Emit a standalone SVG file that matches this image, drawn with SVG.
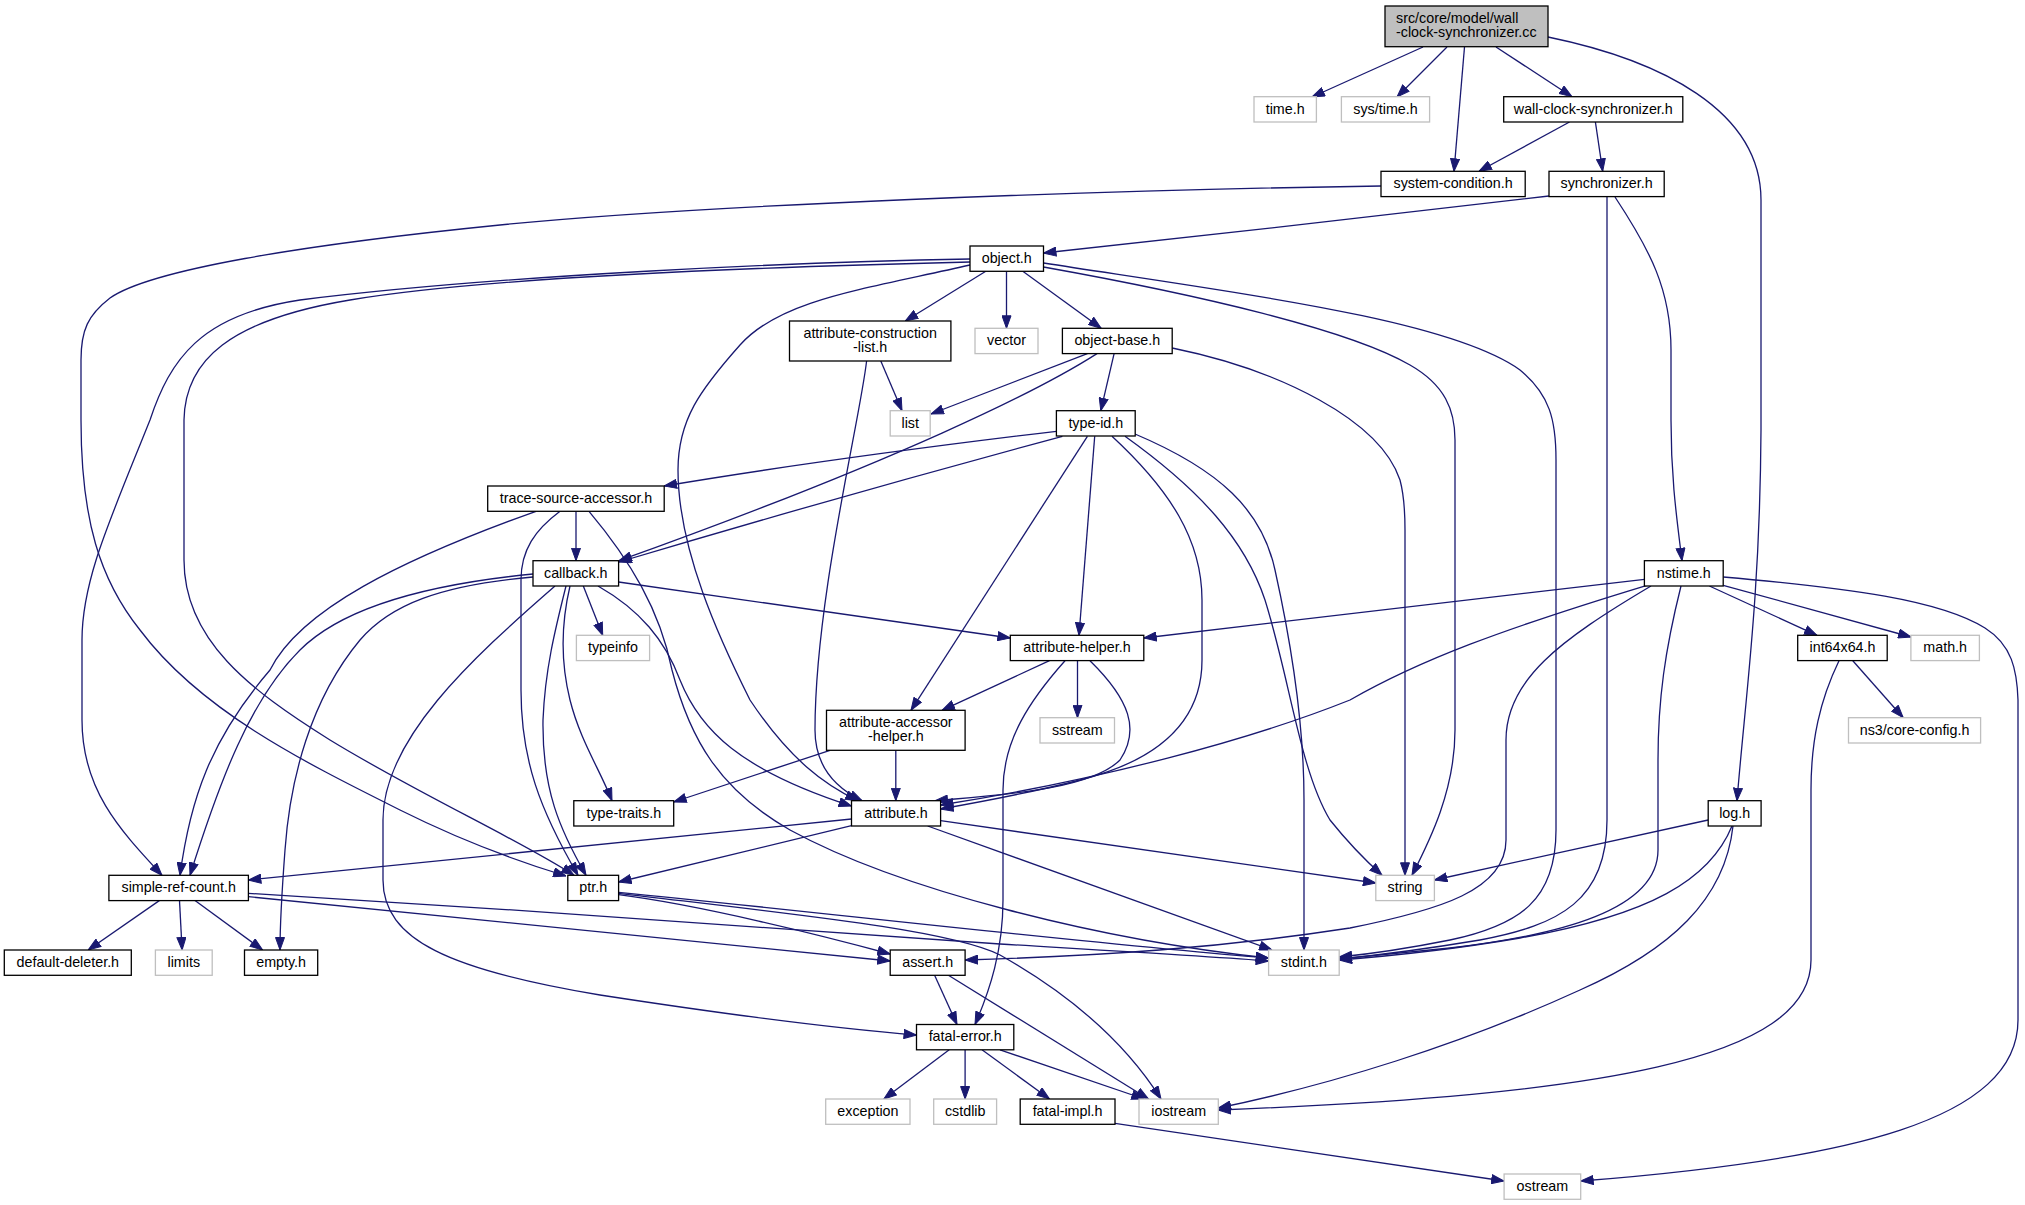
<svg xmlns="http://www.w3.org/2000/svg" width="2025" height="1205" viewBox="0 0 2025 1205">
<style>
.n rect{fill:#fff;stroke:#000;stroke-width:1.3}
.s rect{fill:#fff;stroke:#bfbfbf;stroke-width:1.3}
.r rect{fill:#bfbfbf;stroke:#000;stroke-width:1.3}
text{font-family:"Liberation Sans",Arial,sans-serif;font-size:14.3px;text-anchor:middle;fill:#000}
.r text{text-anchor:start}
#edges path{fill:none;stroke:#191970;stroke-width:1.3;marker-end:url(#a)}
</style>
<defs>
<marker id="a" markerWidth="13" markerHeight="10" refX="13" refY="5" orient="auto" markerUnits="userSpaceOnUse"><path d="M0.5,0.5 L13,5 L0.5,9.5 z" fill="#191970" stroke="#191970" stroke-width="1"/></marker>
</defs>
<rect width="2025" height="1205" fill="#fff"/>
<g id="edges">
<path d="M1423,47 L1312,97"/>
<path d="M1447,47 L1397,97"/>
<path d="M1464.5,47 L1454,171.3"/>
<path d="M1496,47 L1572,96.7"/>
<path d="M1548,37 C1660,60 1761,110 1761,200 L1761,430 C1760,600 1745,700 1737,800.7"/>
<path d="M1569.5,122 L1479,171.3"/>
<path d="M1595.4,122 L1602.7,171.3"/>
<path d="M1381,186 C1100,190 700,205 500,225 C300,245 150,270 110,298 C88,315 81,330 81,360 L81,420 C81,520 100,580 140,630 C200,710 300,760 400,810 C460,840 520,862 566,876"/>
<path d="M1549,196 C1400,214 1200,236 1043.5,253"/>
<path d="M1607,197 L1607,820 C1607,900 1560,925 1480,940 C1420,950 1380,955 1339.2,959"/>
<path d="M1615,197 C1650,250 1671,290 1671,350 L1671,420 C1671,480 1677,520 1682,560.7"/>
<path d="M985.8,271.3 L905.3,321"/>
<path d="M1006.5,271.3 L1006.5,328.3"/>
<path d="M1022.8,271.3 L1101.2,328.3"/>
<path d="M970,265 C860,290 780,300 740,345 C700,390 678,420 678,470 C678,550 720,640 750,700 C790,760 825,785 858,800.7"/>
<path d="M970,259 C800,262 500,275 300,300 C200,315 170,360 150,420 C110,520 82,580 82,640 L82,720 C82,790 120,830 162,875.3"/>
<path d="M970,262 C800,266 500,275 350,300 C230,320 185,360 184,420 L184,560 C184,640 250,690 330,740 C420,795 520,840 574,875.3"/>
<path d="M1043.5,263 C1250,295 1450,320 1520,370 C1550,395 1556,420 1556,460 L1556,830 C1556,900 1520,925 1450,940 C1400,950 1370,954 1339.2,957"/>
<path d="M1043.5,267 C1200,295 1350,330 1410,365 C1445,385 1455,410 1455,440 L1455,730 C1455,790 1430,840 1412,875.3"/>
<path d="M1087.4,353.6 L931,414"/>
<path d="M1097,353.6 C1040,390 900,460 619,560.7"/>
<path d="M1114.1,353.6 L1100.8,410.7"/>
<path d="M1172.2,348 C1280,370 1380,420 1400,480 C1404,495 1405,510 1405,530 L1405,875.3"/>
<path d="M880.8,361 L902,410.7"/>
<path d="M866.6,361 C860,420 815,600 815,730 C815,770 840,790 862,800.7"/>
<path d="M1056.4,431.3 C900,450 760,470 664.2,486"/>
<path d="M1062.4,436.3 C900,480 760,520 619,562"/>
<path d="M1087.4,436.3 L911,710.3"/>
<path d="M1094.7,436.3 L1079,635.3"/>
<path d="M1112,436.3 C1170,490 1202,540 1202,600 L1202,660 C1202,720 1160,760 1080,780 C1030,793 980,802 940.6,809"/>
<path d="M1125,436.3 C1200,490 1245,540 1265,600 C1290,680 1300,770 1330,820 C1350,845 1365,860 1382,875.3"/>
<path d="M1135,434 C1220,470 1262,510 1275,570 C1295,660 1304,740 1304,800 L1304,950"/>
<path d="M576,511.3 L576,560.7"/>
<path d="M560,511.3 C535,530 521,550 521,580 L521,690 C521,760 540,810 578,875.3"/>
<path d="M536,511.3 C400,560 300,610 270,670 C210,740 190,800 180,875.3"/>
<path d="M589,511.3 C630,560 660,610 672,670 C690,740 720,790 790,830 C900,890 1100,940 1268.6,958"/>
<path d="M583.3,586 L602.7,635.3"/>
<path d="M570,586 C562,620 560,660 570,700 C580,740 600,770 612,800.7"/>
<path d="M566,586 C555,630 545,670 543,720 C542,790 560,830 586,875.3"/>
<path d="M533,574 C420,585 340,610 300,650 C250,700 220,780 190,875.3"/>
<path d="M533,577 C440,585 390,605 360,640 C310,700 290,780 285,850 C282,890 280,920 280,950"/>
<path d="M555,586 C470,660 383,740 383,820 L383,880 C383,940 450,970 600,995 C730,1015 830,1028 916.5,1035"/>
<path d="M618.6,582 L1010.3,638"/>
<path d="M598,586 C640,610 665,640 680,680 C700,730 740,770 851.5,806"/>
<path d="M1644.4,579.3 L1143.8,638"/>
<path d="M1647,585.3 C1500,630 1420,660 1350,700 C1250,740 1100,780 940.6,805"/>
<path d="M1651,586 C1560,640 1506,680 1506,740 L1506,840 C1506,890 1440,910 1350,928 C1220,948 1100,956 965.1,960"/>
<path d="M1681,586 C1665,650 1658,700 1658,760 L1658,850 C1658,910 1560,935 1450,948 C1400,953 1370,956 1339.2,959"/>
<path d="M1709.4,586 L1817,635.3"/>
<path d="M1723.2,585.3 L1911,637"/>
<path d="M1723.2,577 C1850,588 1940,600 1985,628 C2012,645 2017,670 2018,700 L2018,1020 C2018,1120 1850,1160 1580.7,1181"/>
<path d="M1852.8,660.7 L1903.2,717.7"/>
<path d="M1839,660.7 C1820,700 1811,740 1811,790 L1811,960 C1811,1060 1600,1095 1218.3,1110"/>
<path d="M1708.2,820 L1434.4,880"/>
<path d="M1732,826 C1710,880 1650,915 1520,938 C1450,950 1390,956 1339.2,960"/>
<path d="M1733,826 C1725,900 1670,950 1580,990 C1460,1045 1330,1085 1218.3,1108"/>
<path d="M1049.5,660.7 L942,710.3"/>
<path d="M1077.5,660.7 L1077.5,717.7"/>
<path d="M1090,660.7 C1130,700 1140,730 1120,760 C1090,790 1000,795 935,800.7"/>
<path d="M1065,660.7 C1030,700 1003,740 1003,790 L1003,900 C1003,950 990,990 975,1024.5"/>
<path d="M895.8,750.3 L895.8,800.7"/>
<path d="M830,750.3 L673.7,802"/>
<path d="M851.5,819 L248.4,880"/>
<path d="M851.5,825.7 L618.6,882"/>
<path d="M940.6,820.7 L1375.8,883"/>
<path d="M927.7,826 L1272,950"/>
<path d="M159.3,900.6 L88.2,950"/>
<path d="M179.5,900.6 L182.1,950"/>
<path d="M195,900.6 L262.6,950"/>
<path d="M248.4,893.3 C500,908 800,930 1000,944 C1150,953 1220,957 1268.6,961"/>
<path d="M248.4,896.7 C500,920 750,945 890.2,961"/>
<path d="M618.6,892.3 C800,910 1100,945 1268.6,958"/>
<path d="M618.6,894.7 C700,905 820,935 890.2,954"/>
<path d="M618.6,893.3 C800,915 950,930 1000,955 C1080,1000 1130,1050 1161,1099"/>
<path d="M934.6,975.3 L957,1024.5"/>
<path d="M948.4,975.3 L1148.5,1099"/>
<path d="M949.2,1049.8 L883.8,1099"/>
<path d="M965.1,1049.8 L965.1,1099"/>
<path d="M982,1049.8 L1049.5,1099"/>
<path d="M1000,1049.8 L1144.2,1099"/>
<path d="M1115,1123.3 L1504.1,1181"/>
</g>
<g id="n-root" class="r"><rect x="1385" y="6" width="163" height="40.7"/><text x="1396" y="23">src/core/model/wall</text><text x="1396" y="37">-clock-synchronizer.cc</text></g>
<g id="n-time" class="s"><rect x="1254" y="96.7" width="62.4" height="25.3"/><text x="1285.2" y="113.5">time.h</text></g>
<g id="n-systime" class="s"><rect x="1341.4" y="96.7" width="88.2" height="25.3"/><text x="1385.5" y="113.5">sys/time.h</text></g>
<g id="n-wcs" class="n"><rect x="1503.7" y="96.7" width="179.1" height="25.3"/><text x="1593.3" y="113.5">wall-clock-synchronizer.h</text></g>
<g id="n-syscond" class="n"><rect x="1381" y="171.3" width="144.2" height="25.3"/><text x="1453.1" y="188.1">system-condition.h</text></g>
<g id="n-sync" class="n"><rect x="1549" y="171.3" width="115.2" height="25.3"/><text x="1606.6" y="188.1">synchronizer.h</text></g>
<g id="n-object" class="n"><rect x="970" y="246" width="73.5" height="25.3"/><text x="1006.75" y="262.8">object.h</text></g>
<g id="n-acl" class="n"><rect x="789.5" y="321" width="161.4" height="40"/><text x="870.2" y="337.5">attribute-construction</text><text x="870.2" y="351.5">-list.h</text></g>
<g id="n-vector" class="s"><rect x="975" y="328.3" width="63" height="25.3"/><text x="1006.5" y="345.1">vector</text></g>
<g id="n-objbase" class="n"><rect x="1062.4" y="328.3" width="109.8" height="25.3"/><text x="1117.3" y="345.1">object-base.h</text></g>
<g id="n-list" class="s"><rect x="890.2" y="410.7" width="40" height="25.3"/><text x="910.2" y="427.5">list</text></g>
<g id="n-typeid" class="n"><rect x="1056.4" y="410.7" width="78.8" height="25.3"/><text x="1095.8" y="427.5">type-id.h</text></g>
<g id="n-tsa" class="n"><rect x="487.7" y="486" width="176.5" height="25.3"/><text x="576" y="502.8">trace-source-accessor.h</text></g>
<g id="n-callback" class="n"><rect x="533" y="560.7" width="85.6" height="25.3"/><text x="575.8" y="577.5">callback.h</text></g>
<g id="n-nstime" class="n"><rect x="1644.4" y="560.7" width="78.8" height="25.3"/><text x="1683.8" y="577.5">nstime.h</text></g>
<g id="n-typeinfo" class="s"><rect x="576.4" y="635.3" width="73.2" height="25.3"/><text x="613" y="652.1">typeinfo</text></g>
<g id="n-ahelper" class="n"><rect x="1010.3" y="635.3" width="133.5" height="25.3"/><text x="1077" y="652.1">attribute-helper.h</text></g>
<g id="n-int64" class="n"><rect x="1797.7" y="635.3" width="89.5" height="25.3"/><text x="1842.5" y="652.1">int64x64.h</text></g>
<g id="n-math" class="s"><rect x="1910.9" y="635.3" width="68.5" height="25.3"/><text x="1945.2" y="652.1">math.h</text></g>
<g id="n-aah" class="n"><rect x="826.5" y="710.3" width="138.6" height="40"/><text x="895.8" y="726.8">attribute-accessor</text><text x="895.8" y="740.8">-helper.h</text></g>
<g id="n-sstream" class="s"><rect x="1040" y="717.7" width="74.5" height="25.3"/><text x="1077.3" y="734.5">sstream</text></g>
<g id="n-coreconfig" class="s"><rect x="1848.5" y="717.7" width="132.1" height="25.3"/><text x="1914.6" y="734.5">ns3/core-config.h</text></g>
<g id="n-typetraits" class="n"><rect x="573.8" y="800.7" width="99.9" height="25.3"/><text x="623.8" y="817.5">type-traits.h</text></g>
<g id="n-attribute" class="n"><rect x="851.5" y="800.7" width="89.1" height="25.3"/><text x="896" y="817.5">attribute.h</text></g>
<g id="n-log" class="n"><rect x="1708.2" y="800.7" width="52.9" height="25.3"/><text x="1734.7" y="817.5">log.h</text></g>
<g id="n-src" class="n"><rect x="108.9" y="875.3" width="139.5" height="25.3"/><text x="178.7" y="892.1">simple-ref-count.h</text></g>
<g id="n-ptr" class="n"><rect x="567.8" y="875.3" width="50.8" height="25.3"/><text x="593.2" y="892.1">ptr.h</text></g>
<g id="n-string" class="s"><rect x="1375.8" y="875.3" width="58.6" height="25.3"/><text x="1405.1" y="892.1">string</text></g>
<g id="n-dd" class="n"><rect x="4.3" y="950" width="127" height="25.3"/><text x="67.8" y="966.8">default-deleter.h</text></g>
<g id="n-limits" class="s"><rect x="155.4" y="950" width="56.8" height="25.3"/><text x="183.8" y="966.8">limits</text></g>
<g id="n-empty" class="n"><rect x="244.5" y="950" width="73.2" height="25.3"/><text x="281.1" y="966.8">empty.h</text></g>
<g id="n-assert" class="n"><rect x="890.2" y="950" width="74.9" height="25.3"/><text x="927.7" y="966.8">assert.h</text></g>
<g id="n-stdint" class="s"><rect x="1268.6" y="950" width="70.6" height="25.3"/><text x="1303.9" y="966.8">stdint.h</text></g>
<g id="n-fatalerror" class="n"><rect x="916.5" y="1024.5" width="97.3" height="25.3"/><text x="965.2" y="1041.3">fatal-error.h</text></g>
<g id="n-exception" class="s"><rect x="825.7" y="1099" width="84.3" height="25.3"/><text x="867.9" y="1115.8">exception</text></g>
<g id="n-cstdlib" class="s"><rect x="933.7" y="1099" width="62.9" height="25.3"/><text x="965.2" y="1115.8">cstdlib</text></g>
<g id="n-fatalimpl" class="n"><rect x="1020.2" y="1099" width="94.8" height="25.3"/><text x="1067.6" y="1115.8">fatal-impl.h</text></g>
<g id="n-iostream" class="s"><rect x="1139" y="1099" width="79.3" height="25.3"/><text x="1178.7" y="1115.8">iostream</text></g>
<g id="n-ostream" class="s"><rect x="1504.1" y="1174" width="76.6" height="25.3"/><text x="1542.4" y="1190.8">ostream</text></g>
</svg>
